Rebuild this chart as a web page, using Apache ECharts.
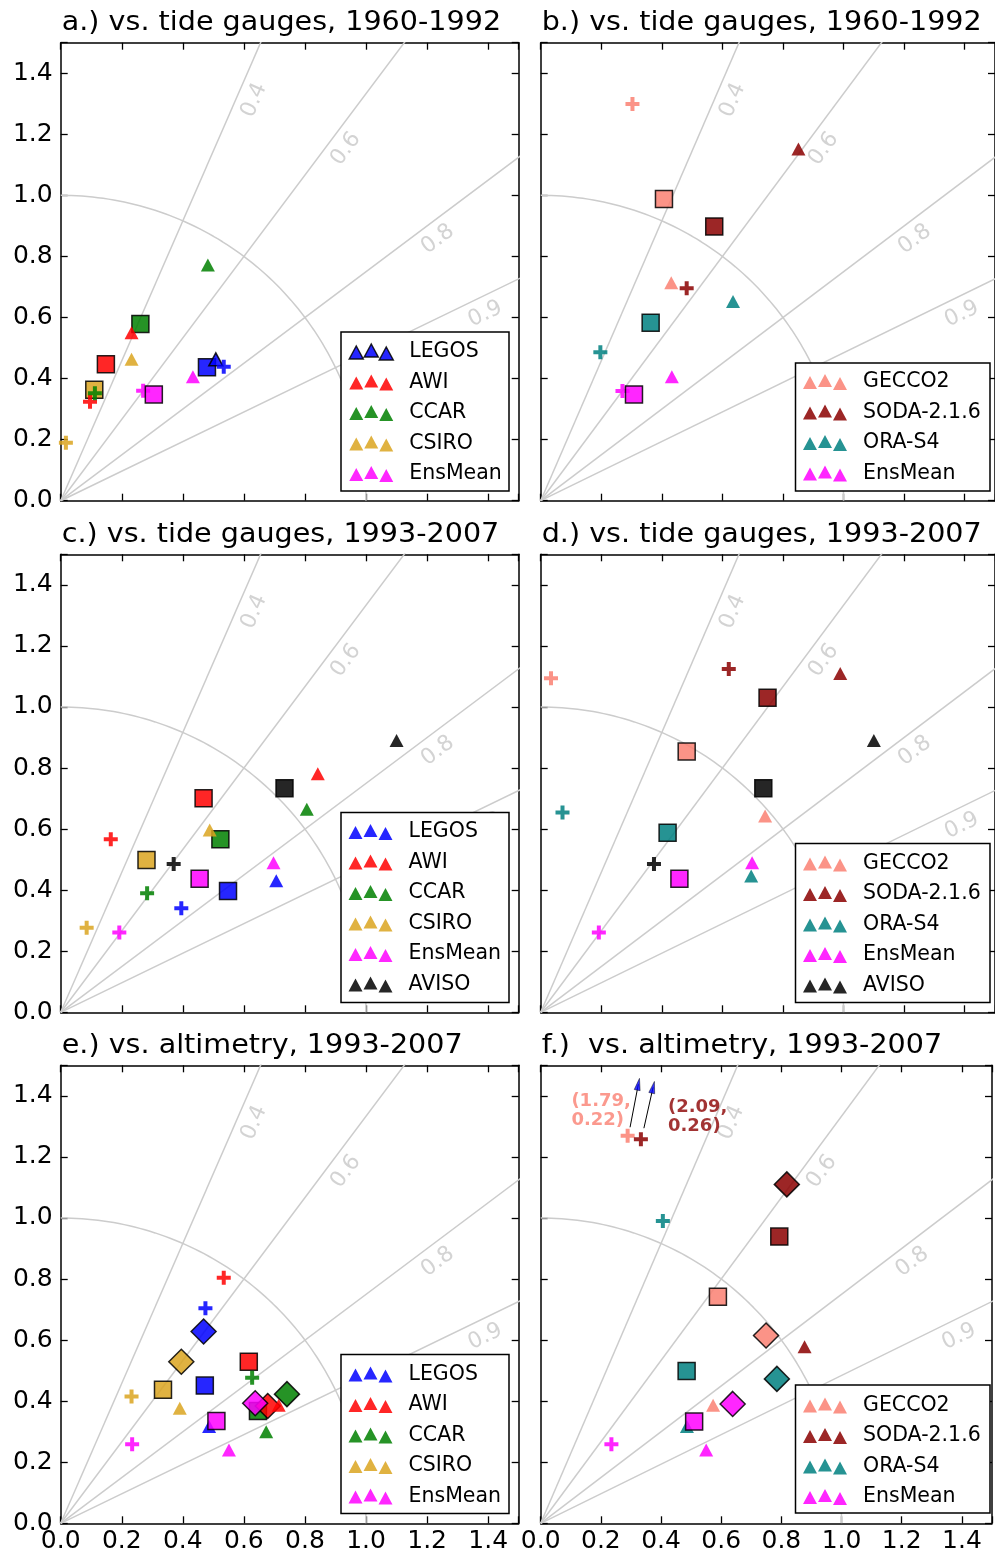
<!DOCTYPE html>
<html>
<head>
<meta charset="utf-8">
<script src="https://cdn.jsdelivr.net/npm/echarts@6.0.0/dist/echarts.min.js"></script>
<style>
  html, body { margin: 0; padding: 0; background: #fff; }
  #chart { width: 995px; height: 1557px; }
</style>
</head>
<body>
<div id="chart"></div>
<script>
// model groups
const modelsTG = ['LEGOS', 'AWI', 'CCAR', 'CSIRO', 'EnsMean']
const modelsRe = ['GECCO2', 'SODA-2.1.6', 'ORA-S4', 'EnsMean']

// [model, x, y]
const aTri = [['LEGOS', 0.508, 0.463], ['AWI', 0.232, 0.550], ['CCAR', 0.482, 0.772], ['CSIRO', 0.232, 0.463], ['EnsMean', 0.433, 0.406]]
const aPlus = [['LEGOS', 0.534, 0.439], ['AWI', 0.096, 0.324], ['CCAR', 0.112, 0.352], ['CSIRO', 0.017, 0.190], ['EnsMean', 0.270, 0.360]]
const aSquare = [['LEGOS', 0.479, 0.437], ['AWI', 0.148, 0.447], ['CCAR', 0.261, 0.579], ['CSIRO', 0.110, 0.363], ['EnsMean', 0.305, 0.348]]

const bTri = [['GECCO2', 0.431, 0.714], ['SODA-2.1.6', 0.851, 1.152], ['ORA-S4', 0.635, 0.652], ['EnsMean', 0.433, 0.406]]
const bPlus = [['GECCO2', 0.303, 1.299], ['SODA-2.1.6', 0.482, 0.696], ['ORA-S4', 0.197, 0.486], ['EnsMean', 0.270, 0.359]]
const bSquare = [['GECCO2', 0.407, 0.988], ['SODA-2.1.6', 0.573, 0.898], ['ORA-S4', 0.363, 0.583], ['EnsMean', 0.308, 0.348]]

const cTri = [['LEGOS', 0.706, 0.431], ['AWI', 0.842, 0.781], ['CCAR', 0.806, 0.665], ['CSIRO', 0.488, 0.597], ['EnsMean', 0.697, 0.490], ['AVISO', 1.100, 0.890]]
const cPlus = [['LEGOS', 0.395, 0.341], ['AWI', 0.164, 0.567], ['CCAR', 0.283, 0.390], ['CSIRO', 0.085, 0.277], ['EnsMean', 0.192, 0.261], ['AVISO', 0.370, 0.486]]
const cSquare = [['LEGOS', 0.548, 0.397], ['AWI', 0.468, 0.701], ['CCAR', 0.523, 0.567], ['CSIRO', 0.281, 0.499], ['EnsMean', 0.455, 0.437], ['AVISO', 0.733, 0.734]]

const dTri = [['GECCO2', 0.741, 0.643], ['SODA-2.1.6', 0.989, 1.110], ['ORA-S4', 0.695, 0.446], ['EnsMean', 0.698, 0.490], ['AVISO', 1.100, 0.890]]
const dPlus = [['GECCO2', 0.034, 1.094], ['SODA-2.1.6', 0.621, 1.124], ['ORA-S4', 0.072, 0.654], ['EnsMean', 0.192, 0.261], ['AVISO', 0.374, 0.486]]
const dSquare = [['GECCO2', 0.482, 0.854], ['SODA-2.1.6', 0.749, 1.030], ['ORA-S4', 0.419, 0.588], ['EnsMean', 0.458, 0.437], ['AVISO', 0.735, 0.734]]

const eTri = [['LEGOS', 0.486, 0.317], ['AWI', 0.714, 0.387], ['CCAR', 0.673, 0.300], ['CSIRO', 0.390, 0.377], ['EnsMean', 0.551, 0.240]]
const ePlus = [['LEGOS', 0.474, 0.704], ['AWI', 0.534, 0.804], ['CCAR', 0.627, 0.477], ['CSIRO', 0.232, 0.415], ['EnsMean', 0.234, 0.259]]
const eSquare = [['LEGOS', 0.472, 0.451], ['AWI', 0.616, 0.529], ['CCAR', 0.646, 0.368], ['CSIRO', 0.335, 0.437], ['EnsMean', 0.510, 0.335]]
const eDiamond = [['LEGOS', 0.468, 0.628], ['AWI', 0.678, 0.384], ['CCAR', 0.741, 0.423], ['CSIRO', 0.395, 0.529], ['EnsMean', 0.637, 0.393]]

const fTri = [['GECCO2', 0.573, 0.387], ['SODA-2.1.6', 0.877, 0.578], ['ORA-S4', 0.486, 0.317], ['EnsMean', 0.550, 0.240]]
const fPlus = [['GECCO2', 0.289, 1.269], ['SODA-2.1.6', 0.333, 1.258], ['ORA-S4', 0.406, 0.990], ['EnsMean', 0.235, 0.259]]
const fSquare = [['GECCO2', 0.589, 0.742], ['SODA-2.1.6', 0.793, 0.939], ['ORA-S4', 0.485, 0.499], ['EnsMean', 0.510, 0.333]]
const fDiamond = [['GECCO2', 0.749, 0.615], ['SODA-2.1.6', 0.818, 1.110], ['ORA-S4', 0.785, 0.473], ['EnsMean', 0.638, 0.391]]

// off-scale points in f, shown as arrows + text
const fOffText = [['GECCO2', '(1.79,\n0.22)'], ['SODA-2.1.6', '(2.09,\n0.26)']]
const fArrowFrom = [[0.297, 1.297], [0.343, 1.294]]
const fArrowTo = [[0.3245, 1.438], [0.3735, 1.428]]
const fTextAt = [[0.102, 1.351], [0.423, 1.332]]

// correlation guide lines and their labels
const corrLevels = [0.4, 0.6, 0.8, 0.9]
const corrLabelRadius = [1.456, 1.482, 1.502, 1.518]
const axisTicks = ['0.0', '0.2', '0.4', '0.6', '0.8', '1.0', '1.2', '1.4']

const modelColors = {
  LEGOS: '#0000ff', AWI: '#ff0000', CCAR: '#008000', CSIRO: '#daa520',
  EnsMean: '#ff00ff', AVISO: '#000000',
  GECCO2: '#fa8072', 'SODA-2.1.6': '#8b0000', 'ORA-S4': '#008080'
}

const panels = [
  { id: 'a', title: 'a.) vs. tide gauges, 1960-1992', col: 0, row: 0, models: modelsTG, tri: aTri, plus: aPlus, square: aSquare, diamond: [], box: [341, 332, 168, 159], legendTop: 341.5 },
  { id: 'b', title: 'b.) vs. tide gauges, 1960-1992', col: 1, row: 0, models: modelsRe, tri: bTri, plus: bPlus, square: bSquare, diamond: [], box: [795.5, 363, 194.5, 128], legendTop: 371.5 },
  { id: 'c', title: 'c.) vs. tide gauges, 1993-2007', col: 0, row: 1, models: modelsTG.concat(['AVISO']), tri: cTri, plus: cPlus, square: cSquare, diamond: [], box: [341, 812.5, 168, 190], legendTop: 821.5 },
  { id: 'd', title: 'd.) vs. tide gauges, 1993-2007', col: 1, row: 1, models: modelsRe.concat(['AVISO']), tri: dTri, plus: dPlus, square: dSquare, diamond: [], box: [795.5, 843.5, 194.5, 159], legendTop: 853 },
  { id: 'e', title: 'e.) vs. altimetry, 1993-2007', col: 0, row: 2, models: modelsTG, tri: eTri, plus: ePlus, square: eSquare, diamond: eDiamond, box: [341, 1354.5, 168, 159], legendTop: 1364 },
  { id: 'f', title: 'f.)  vs. altimetry, 1993-2007', col: 1, row: 2, models: modelsRe, tri: fTri, plus: fPlus, square: fSquare, diamond: fDiamond, box: [795.5, 1385, 194.5, 128], legendTop: 1395 }
]

const colLeft = [60.7, 540.7]
const rowTop = [42.7, 554.3, 1065.3]
const PLOT = 458
const FONT = '"DejaVu Sans", sans-serif'
const plusPath = 'path://M5,0H9V5H14V9H9V14H5V9H0V5H5Z'
const legendIcon = 'path://M0,15L7,2L14,15ZM15,13L22,0L29,13ZM30,16L37,3L44,16Z'

const markerStyle = {
  tri: { symbol: 'triangle', size: [14, 13], border: 0 },
  plus: { symbol: plusPath, size: 14, border: 0 },
  square: { symbol: 'rect', size: 17, border: 1.5 },
  diamond: { symbol: 'diamond', size: 25, border: 1.5 }
}

const grids = []
const xAxes = []
const yAxes = []
const series = []
const legends = []
const graphics = []

const makeAxis = (gridIndex, position, showLabel) => ({
  type: 'value',
  gridIndex,
  position,
  min: 0,
  max: 1.5,
  interval: 0.2,
  axisLine: { show: true, onZero: false, lineStyle: { color: '#000', width: 1.5 } },
  axisTick: { show: true, inside: true, length: 7, lineStyle: { color: '#000', width: 1.3 } },
  axisLabel: {
    show: showLabel,
    margin: position === 'left' ? 8 : 6,
    fontSize: 25,
    color: '#000',
    fontFamily: FONT,
    formatter: v => {
      const i = Math.round(v / 0.2)
      return v > 1.45 ? '' : axisTicks[i]
    }
  },
  splitLine: { show: false }
})

const markerSeries = (p, pi, kind, model, x, y) => {
  const st = markerStyle[kind]
  const edged = st.border > 0 || (p.id === 'a' && model === 'LEGOS' && kind === 'tri')
  return {
    type: 'scatter',
    name: kind === 'tri' ? p.id + '|' + model : p.id + '|' + model + '|' + kind,
    xAxisIndex: 2 * pi,
    yAxisIndex: 2 * pi,
    symbol: st.symbol,
    symbolSize: st.size,
    data: [[x, y]],
    itemStyle: {
      color: modelColors[model],
      opacity: 0.85,
      borderColor: '#000',
      borderWidth: edged ? 1.5 : 0
    },
    emphasis: { disabled: true },
    silent: true,
    z: 2
  }
}

panels.forEach((p, pi) => {
  const left = colLeft[p.col]
  const top = rowTop[p.row]
  grids.push({ left, top, width: PLOT, height: PLOT })
  xAxes.push(makeAxis(pi, 'bottom', p.row === 2), makeAxis(pi, 'top', false))
  yAxes.push(makeAxis(pi, 'left', p.col === 0), makeAxis(pi, 'right', false))

  // radial correlation lines
  corrLevels.forEach(r => {
    const s = Math.sqrt(1 - r * r)
    series.push({
      type: 'line', xAxisIndex: 2 * pi, yAxisIndex: 2 * pi,
      data: [[0, 0], [2.4 * r, 2.4 * s]],
      symbol: 'none', silent: true, clip: true, z: 1,
      lineStyle: { color: '#cccccc', width: 1.5 }
    })
  })
  // unit std arc
  const arc = []
  for (let a = 0; a <= 90; a++) arc.push([Math.cos(a * Math.PI / 180), Math.sin(a * Math.PI / 180)])
  series.push({
    type: 'line', xAxisIndex: 2 * pi, yAxisIndex: 2 * pi, data: arc,
    symbol: 'none', silent: true, z: 1, smooth: false,
    lineStyle: { color: '#cccccc', width: 1.5 }
  })
  // correlation labels
  series.push({
    type: 'scatter', xAxisIndex: 2 * pi, yAxisIndex: 2 * pi,
    symbolSize: 0, silent: true, z: 1,
    data: corrLevels.map((r, i) => {
      const s = Math.sqrt(1 - r * r)
      const R = corrLabelRadius[i]
      const off = 0.056
      return {
        value: [R * r + off * s, R * s - off * r],
        label: { rotate: Math.acos(r) * 180 / Math.PI, formatter: String(r) }
      }
    }),
    label: {
      show: true, position: 'inside', align: 'center', verticalAlign: 'middle',
      color: '#c8c8c8', fontSize: 22, fontFamily: FONT
    }
  })

  // markers, drawn in the same stacking as the figure
  const plain = m => m !== 'EnsMean'
  p.square.filter(d => plain(d[0])).forEach(d => series.push(markerSeries(p, pi, 'square', d[0], d[1], d[2])))
  p.diamond.filter(d => plain(d[0])).forEach(d => series.push(markerSeries(p, pi, 'diamond', d[0], d[1], d[2])))
  p.tri.forEach(d => series.push(markerSeries(p, pi, 'tri', d[0], d[1], d[2])))
  p.plus.forEach(d => series.push(markerSeries(p, pi, 'plus', d[0], d[1], d[2])))
  p.square.filter(d => !plain(d[0])).forEach(d => series.push(markerSeries(p, pi, 'square', d[0], d[1], d[2])))
  p.diamond.filter(d => !plain(d[0])).forEach(d => series.push(markerSeries(p, pi, 'diamond', d[0], d[1], d[2])))

  // legend box + legend
  graphics.push({
    type: 'rect', z: 3, silent: true,
    shape: { x: p.box[0], y: p.box[1], width: p.box[2], height: p.box[3] },
    style: { fill: '#fff', stroke: '#000', lineWidth: 1.5 }
  })
  legends.push({
    orient: 'vertical',
    left: p.box[0] + 7.5,
    top: p.legendTop,
    padding: 0,
    itemGap: 9.5,
    itemWidth: 44,
    itemHeight: 16,
    icon: legendIcon,
    selectedMode: false,
    z: 4,
    data: p.models.map(m => {
      const item = { name: p.id + '|' + m }
      if (p.id === 'a' && m === 'LEGOS') item.itemStyle = { borderColor: '#000', borderWidth: 1.5 }
      else item.itemStyle = { borderWidth: 0 }
      return item
    }),
    formatter: name => name.split('|')[1],
    textStyle: { fontSize: 20.5, color: '#000', fontFamily: FONT, lineHeight: 20, padding: [0, 0, 0, 11] }
  })

  // title
  graphics.push({
    type: 'text', x: left + 1, y: top - 19, scaleX: 1.1, silent: true,
    style: { text: p.title, x: 0, y: 0, font: '26px ' + FONT, fill: '#000', verticalAlign: 'middle' }
  })
})

// f: arrows and notes for the off-scale points
const fi = 5
fArrowFrom.forEach((from, i) => {
  const to = fArrowTo[i]
  series.push({
    type: 'line', xAxisIndex: 2 * fi, yAxisIndex: 2 * fi,
    data: [from, to], symbol: 'none', silent: true, z: 2,
    lineStyle: { color: '#000', width: 1 }
  })
  const ang = Math.atan2(to[1] - from[1], to[0] - from[0]) * 180 / Math.PI
  series.push({
    type: 'scatter', xAxisIndex: 2 * fi, yAxisIndex: 2 * fi,
    data: [to], symbol: 'triangle', symbolSize: [6, 12], symbolRotate: ang - 90,
    silent: true, z: 3,
    itemStyle: { color: '#0000ff', borderColor: '#000', borderWidth: 0.5 }
  })
})
fOffText.forEach((t, i) => {
  series.push({
    type: 'scatter', xAxisIndex: 2 * fi, yAxisIndex: 2 * fi,
    data: [fTextAt[i]], symbolSize: 0, silent: true, z: 3,
    label: {
      show: true, position: 'right', distance: 0, align: 'left', verticalAlign: 'middle',
      formatter: t[1], color: modelColors[t[0]], fontWeight: 'bold', fontSize: 18, lineHeight: 19, fontFamily: FONT
    }
  })
})

const chart = echarts.init(document.getElementById('chart'))
chart.setOption({
  animation: false,
  textStyle: { fontFamily: FONT },
  grid: grids,
  xAxis: xAxes,
  yAxis: yAxes,
  legend: legends,
  graphic: { elements: graphics },
  series
})
</script>
</body>
</html>
